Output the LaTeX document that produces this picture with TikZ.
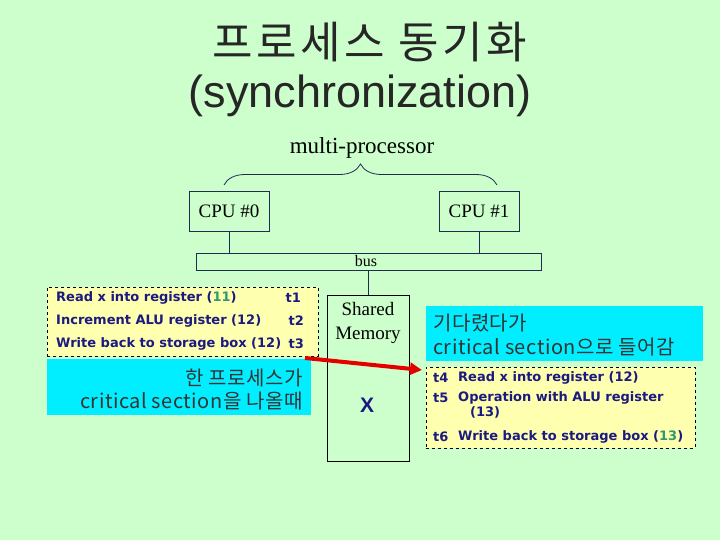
\documentclass[tikz,border=0pt]{standalone}
\usepackage{fontspec}
\setmainfont{Liberation Serif}
\newfontfamily\krfont{Noto Sans CJK KR}
\newfontfamily\krwide[LetterSpace=2.5]{Noto Sans CJK KR}
\newfontfamily\krtitle[LetterSpace=8]{Noto Sans CJK KR}
\newfontfamily\arialf{Liberation Sans}
\newfontfamily\dejab{DejaVu Sans}
\usetikzlibrary{decorations.pathreplacing,arrows.meta}
\definecolor{bgg}{HTML}{CCFFCC}
\definecolor{ylw}{HTML}{FFFFB0}
\definecolor{cyn}{HTML}{00EEFF}
\definecolor{nvy}{HTML}{1A1A80}
\definecolor{grn}{HTML}{2E9970}
\definecolor{lnc}{HTML}{1F2A55}
\definecolor{kgr}{HTML}{333333}
\begin{document}
\begin{tikzpicture}[x=1pt,y=-1pt,
  box/.style={draw=lnc,line width=0.8pt,inner sep=0pt},
  dbox/.style={draw=black,dashed,line width=0.7pt,fill=ylw,inner sep=0pt},
  cbox/.style={fill=cyn,draw=none,inner sep=0pt},
  stxt/.style={font=\dejab\bfseries\fontsize{13}{16}\selectfont,text=nvy,inner sep=0pt},
  ktxt/.style={font=\krwide\fontsize{20}{22}\selectfont,text=kgr,inner sep=0pt},
  lnk/.style={draw=lnc,line width=0.8pt}]
\fill[bgg] (0,0) rectangle (720,540);
\useasboundingbox (0,0) rectangle (720,540);
% title
\node[font=\krtitle\fontsize{44}{50}\selectfont,text=black!85] (t1) at (370,42) {프로세스 동기화};
\node[font=\arialf\fontsize{45}{50}\selectfont,text=black!85] (t2) at (360,96) {(synchronization)};
\node[font=\fontsize{23}{26}\selectfont] (mp) at (362,148) {multi-processor};
\coordinate (bl) at (224,185);
\coordinate (br) at (497,185);
\draw[lnc,line width=0.8pt,decorate,decoration={brace,amplitude=21pt}] (bl) -- (br);
% CPUs
\node[box,minimum width=80pt,minimum height=40pt,font=\fontsize{19}{20}\selectfont] (c0) at (229,211) {CPU \#0};
\node[box,minimum width=80pt,minimum height=40pt,font=\fontsize{19}{20}\selectfont] (c1) at (479,211) {CPU \#1};
\node[box,minimum width=345pt,minimum height=17pt] (bus) at (368.5,261.5) {};
\node[font=\fontsize{16}{18}\selectfont,inner sep=0pt] (bust) at (366,261) {bus};
\draw[lnk] (c0.south) -- (c0.south |- bus.north);
\draw[lnk] (c1.south) -- (c1.south |- bus.north);
% memory
\node[box,draw=black,minimum width=82pt,minimum height=166pt] (mem) at (368,378) {};
\draw[lnk] (mem.north |- bus.south) -- (mem.north);
\node[font=\fontsize{19}{24}\selectfont,align=center,inner sep=0pt] (memt) at (368,323) {Shared\\Memory};
\node[font=\arialf\bfseries\fontsize{21}{24}\selectfont,text=nvy,inner sep=0pt] (x) at (367,405) {X};
% left boxes
\node[dbox,minimum width=271pt,minimum height=69pt] (ly) at (182.5,321.5) {};
\node[stxt,anchor=west] (l1) at (56,298) {Read x into register (\textcolor{grn}{11})};
\node[stxt,anchor=west] (l2) at (56,321) {Increment ALU register (12)};
\node[stxt,anchor=west] (l3) at (56,344) {Write back to storage box (12)};
\node[stxt,anchor=east] (lt1) at (301,298) {t1};
\node[stxt,anchor=east] (lt2) at (304,321) {t2};
\node[stxt,anchor=east] (lt3) at (304,344) {t3};
\node[cbox,minimum width=264pt,minimum height=56pt] (lc) at (179,387) {};
\node[ktxt,anchor=east] (lk1) at (303,378) {한 프로세스가};
\node[ktxt,anchor=east] (lk2) at (303,401) {critical section을 나올때};
% right boxes
\node[cbox,minimum width=277pt,minimum height=55pt] (rc) at (564.5,333.5) {};
\node[ktxt,anchor=west] (rk1) at (433,323) {기다렸다가};
\node[ktxt,anchor=west] (rk2) at (433,347) {critical section으로 들어감};
\node[dbox,minimum width=269pt,minimum height=81pt] (ry) at (560.5,407.5) {};
\node[stxt,anchor=west] (r4) at (433,378) {t4};
\node[stxt,anchor=west] (r4b) at (458,378) {Read x into register (12)};
\node[stxt,anchor=west] (r5) at (433,398) {t5};
\node[stxt,anchor=west] (r5b) at (458,398) {Operation with ALU register};
\node[stxt,anchor=west] (r5c) at (470,412) {(13)};
\node[stxt,anchor=west] (r6) at (433,437) {t6};
\node[stxt,anchor=west] (r6b) at (458,437) {Write back to storage box (\textcolor{grn}{13})};
% arrow
\coordinate (as) at (305,358);
\coordinate (ae) at (422,370);
\draw[red!90!black,line width=4pt,-{Triangle[length=12pt,width=12pt]}] (as) -- (ae);
\end{tikzpicture}
\end{document}
